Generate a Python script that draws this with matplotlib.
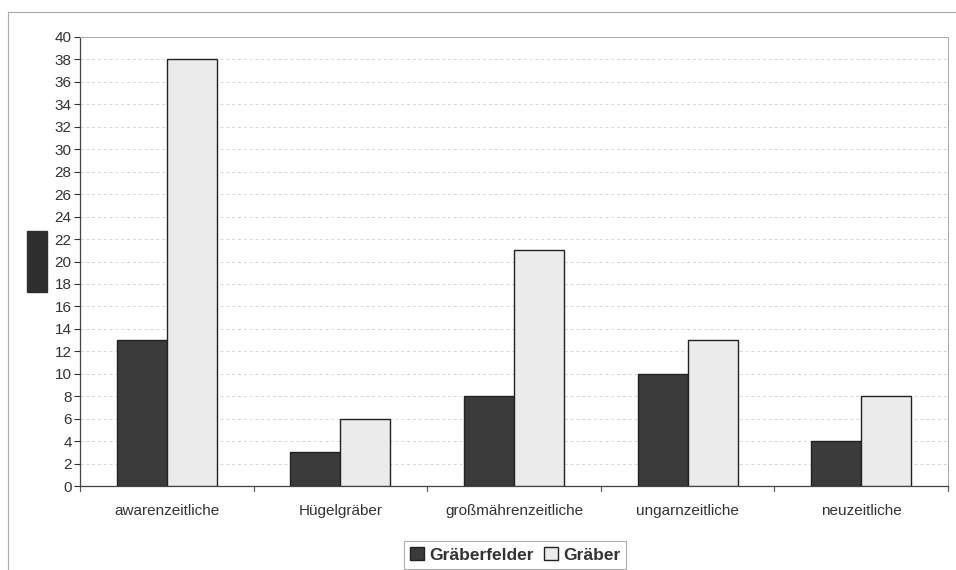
import numpy as np
import matplotlib
matplotlib.use('Agg')
import matplotlib.pyplot as plt
from matplotlib.patches import Rectangle, Patch
from matplotlib.lines import Line2D

plt.rcParams['font.family'] = ['Liberation Sans', 'DejaVu Sans']

kategorien = ['awarenzeitliche', 'Hügelgräber', 'großmährenzeitliche', 'ungarnzeitliche', 'neuzeitliche']
graeberfelder = [13, 3, 8, 10, 4]
graeber = [38, 6, 21, 13, 8]

fig = plt.figure(figsize=(9.56, 5.70), dpi=100)
ax = fig.add_axes([80 / 956, 1 - 486 / 570, 868 / 956, 449 / 570])

x = np.arange(len(kategorien))
w = 0.288
ax.bar(x - w / 2, graeberfelder, width=w, color='#3b3b3b', edgecolor='#222222', linewidth=1.0,
       label='Gräberfelder', zorder=3)
ax.bar(x + w / 2, graeber, width=w, color='#ebebeb', edgecolor='#222222', linewidth=1.0,
       label='Gräber', zorder=3)

ax.set_xlim(-0.5, len(kategorien) - 0.5)
ax.set_ylim(0, 40)
ax.set_yticks(range(0, 41, 2))
ax.tick_params(axis='y', labelsize=11, length=4, direction='out', colors='#333333', pad=2)
ax.set_xticks(x)
ax.set_xticklabels(kategorien, fontsize=11, color='#333333')
ax.tick_params(axis='x', length=0, pad=13)
# Trennstriche zwischen Kategorien
for b in np.arange(-0.5, len(kategorien), 1.0):
    ax.plot([b, b], [0, -0.012], transform=ax.get_xaxis_transform(), color='#555555',
            lw=0.8, clip_on=False)

ax.yaxis.grid(True, linestyle=(0, (3, 3)), color='#d6d6d6', linewidth=0.7, zorder=0)
for s in ['top', 'right']:
    ax.spines[s].set_color('#aaaaaa')
    ax.spines[s].set_linestyle((0, (2, 1)))
    ax.spines[s].set_linewidth(0.7)
for s in ['left', 'bottom']:
    ax.spines[s].set_color('#444444')
    ax.spines[s].set_linewidth(0.9)

# äußerer Rahmen (links und oben)
fig.add_artist(Line2D([8 / 956, 8 / 956], [0, 1 - 12 / 570], transform=fig.transFigure,
                      color='#aaaaaa', lw=0.8))
fig.add_artist(Line2D([8 / 956, 1], [1 - 12 / 570, 1 - 12 / 570], transform=fig.transFigure,
                      color='#aaaaaa', lw=0.8))

# dunkles Fleckchen am linken Rand
fig.add_artist(Rectangle((27 / 956, 1 - 292 / 570), 20 / 956, 61 / 570,
                         transform=fig.transFigure, color='#2e2e2e'))

handles = [Patch(facecolor='#3b3b3b', edgecolor='#222222', label='Gräberfelder'),
           Patch(facecolor='#ebebeb', edgecolor='#222222', label='Gräber')]
leg = fig.legend(handles=handles, loc='center', bbox_to_anchor=(515 / 956, 1 - 555 / 570),
                 ncol=2, frameon=True, fancybox=False, edgecolor='#999999',
                 prop={'size': 12.5, 'weight': 'bold'}, handlelength=0.8, handleheight=0.8,
                 handletextpad=0.3, columnspacing=0.6, borderpad=0.35)
leg.get_frame().set_linewidth(0.8)
for t in leg.get_texts():
    t.set_color('#333333')

plt.savefig('out.png', dpi=100)
